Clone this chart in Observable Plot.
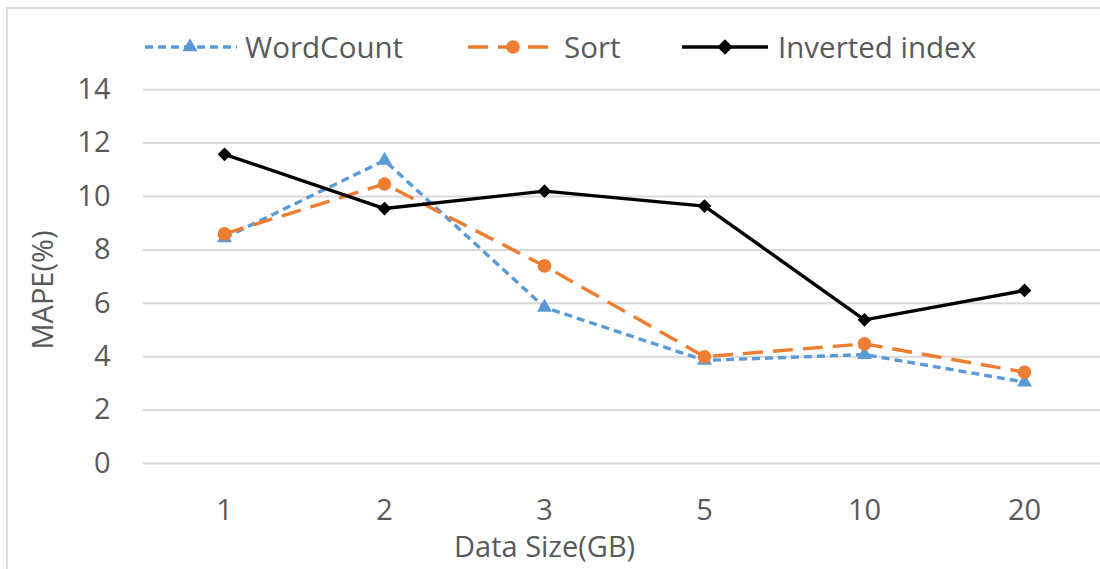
<!DOCTYPE html>
<html>
<head>
<meta charset="utf-8">
<script src="https://cdn.jsdelivr.net/npm/d3@7"></script>
<script src="https://cdn.jsdelivr.net/npm/@observablehq/plot@0.6"></script>
<style>
  html, body { margin: 0; padding: 0; background: #fff; }
  #wrap { position: relative; width: 1100px; height: 569px; overflow: hidden; font-family: "Open Sans", sans-serif; color: #595959; }
  #border { position: absolute; left: 6px; top: 7px; width: 1200px; height: 700px; border-left: 2px solid #dcdcdc; border-top: 2px solid #dcdcdc; }
  .lg { position: absolute; top: 26px; height: 42px; }
  .lt { position: absolute; top: 25px; font-size: 29.5px; line-height: 44px; color: #595959; white-space: nowrap; }
  #xtitle { position: absolute; left: 454px; top: 531px; font-size: 29px; line-height: 30px; white-space: nowrap; }
  #ytitle { position: absolute; left: 41px; top: 290px; font-size: 29px; white-space: nowrap; transform: translate(-50%, -50%) rotate(-90deg); }
  #chart { position: absolute; left: 0; top: 0; }
</style>
</head>
<body>
<div id="wrap">
  <div id="border"></div>
  <div id="chart"></div>
  <div id="legend"></div>
  <div id="xtitle">Data Size(GB)</div>
  <div id="ytitle">MAPE(%)</div>
</div>
<script>
const categories = ["1", "2", "3", "5", "10", "20"];
const wordCount = [8.45, 11.35, 5.85, 3.86, 4.08, 3.05];
const sortVals = [8.6, 10.47, 7.4, 4.0, 4.48, 3.42];
const invertedIndex = [11.58, 9.55, 10.2, 9.64, 5.38, 6.48];
const yTicks = [0, 2, 4, 6, 8, 10, 12, 14];
const seriesNames = ["WordCount", "Sort", "Inverted index"];

const colors = { "WordCount": "#5B9BD5", "Sort": "#ED7D31", "Inverted index": "#000000" };
const dashes = { "WordCount": "8,5", "Sort": "20,10", "Inverted index": null };
const symbols = { "WordCount": "triangle", "Sort": "circle", "Inverted index": "diamond2" };
const radii = { "WordCount": 5.6, "Sort": 6.8, "Inverted index": 6.2 };

const toRows = (name, vals) => categories.map((c, i) => ({ series: name, size: c, value: vals[i] }));
const series = {
  "WordCount": toRows("WordCount", wordCount),
  "Sort": toRows("Sort", sortVals),
  "Inverted index": toRows("Inverted index", invertedIndex)
};

const marks = [
  Plot.ruleY(yTicks, { stroke: "#d9d9d9", strokeWidth: 2 }),
  Plot.axisY({ ticks: yTicks, tickSize: 0, tickPadding: 33, label: null }),
  Plot.axisX({ tickSize: 0, tickPadding: 36, label: null })
];
for (const name of seriesNames) {
  marks.push(Plot.line(series[name], {
    x: "size", y: "value", stroke: colors[name], strokeWidth: 3.4,
    strokeDasharray: dashes[name], strokeLinecap: "butt", strokeLinejoin: "round"
  }));
  marks.push(Plot.dot(series[name], {
    x: "size", y: "value", symbol: symbols[name], r: radii[name],
    fill: colors[name], stroke: "none"
  }));
}

const chart = Plot.plot({
  width: 1100,
  height: 569,
  marginLeft: 143,
  marginRight: 0,
  marginTop: 89.2,
  marginBottom: 106,
  style: { fontFamily: "Open Sans, sans-serif", fontSize: "29px", color: "#595959", background: "transparent" },
  x: { type: "point", domain: categories, range: [223.5, 1024], padding: 0 },
  y: { domain: [0, 14] },
  marks
});
document.getElementById("chart").appendChild(chart);

// Legend
const legend = document.getElementById("legend");
const legendItems = [
  { name: "WordCount", x0: 145, x1: 237, mx: 190, tx: 245 },
  { name: "Sort", x0: 468, x1: 558, mx: 513, tx: 564 },
  { name: "Inverted index", x0: 682, x1: 768, mx: 725, tx: 778 }
];
for (const it of legendItems) {
  const w = it.x1 - it.x0;
  const svg = d3.create("svg").attr("class", "lg").attr("width", w).attr("height", 42)
    .style("left", it.x0 + "px");
  svg.append("line").attr("x1", 0).attr("x2", w).attr("y1", 21).attr("y2", 21)
    .attr("stroke", colors[it.name]).attr("stroke-width", 3.4)
    .attr("stroke-dasharray", dashes[it.name]);
  const symMap = { triangle: d3.symbolTriangle, circle: d3.symbolCircle, diamond2: d3.symbolSquare };
  const r = radii[it.name];
  const sym = d3.symbol(symMap[symbols[it.name]], Math.PI * r * r);
  svg.append("path").attr("d", sym())
    .attr("transform", `translate(${it.mx - it.x0},21)` + (symbols[it.name] === "diamond2" ? " rotate(45)" : ""))
    .attr("fill", colors[it.name]);
  legend.appendChild(svg.node());
  const t = document.createElement("div");
  t.className = "lt";
  t.style.left = it.tx + "px";
  t.textContent = it.name;
  legend.appendChild(t);
}
</script>
</body>
</html>
